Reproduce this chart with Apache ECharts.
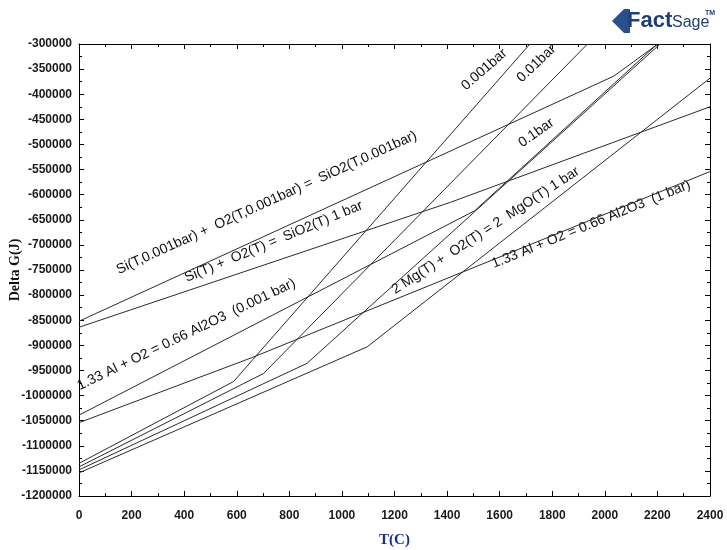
<!DOCTYPE html>
<html><head><meta charset="utf-8">
<script src="https://cdn.jsdelivr.net/npm/echarts@6/dist/echarts.min.js"></script>
<style>html,body{margin:0;padding:0;background:#fff}#c{width:727px;height:550px}</style>
</head><body><div id="c"></div>
<script>
// Temperature (C) and Delta G (J)
const siLowT  = [0, 2034, 2202];
const siLowG  = [-852000, -364000, -300000];
const si1T    = [0, 1414, 2400];
const si1G    = [-864000, -615000, -425000];
const alLowT  = [0, 1505, 2200];
const alLowG  = [-1039000, -632000, -300000];
const al1T    = [0, 660, 2400];
const al1G    = [-1054000, -924000, -554000];
const mg0001T = [0, 588, 1715];
const mg0001G = [-1135000, -972000, -300000];
const mg001T  = [0, 702, 1934];
const mg001G  = [-1142000, -956000, -300000];
const mg01T   = [0, 867, 2210];
const mg01G   = [-1148000, -936000, -300000];
const mg1T    = [0, 1096, 2400];
const mg1G    = [-1154000, -903000, -368000];

const xMin = 0, xMax = 2400, xStep = 200;
const yMin = -1200000, yMax = -300000, yStep = 50000;

const pairs = (t, g) => t.map((v, i) => [v, g[i]]);
const curves = [
  pairs(siLowT, siLowG), pairs(si1T, si1G),
  pairs(alLowT, alLowG), pairs(al1T, al1G),
  pairs(mg0001T, mg0001G), pairs(mg001T, mg001G),
  pairs(mg01T, mg01G), pairs(mg1T, mg1G)
];

const labelFont = '14px "Liberation Sans", Arial, sans-serif';
const notes = [
  ['Si(T,0.001bar) +  O2(T,0.001bar) =  SiO2(T,0.001bar)', 120, 277, 24.4],
  ['Si(T) +  O2(T) =  SiO2(T) 1 bar', 188, 285, 22.6],
  ['1.33 Al + O2 = 0.66 Al2O3  (0.001 bar)', 81, 393, 25.7],
  ['0.001bar', 468, 93, 41],
  ['0.01bar', 524, 85, 43.5],
  ['0.1bar', 524, 150, 35],
  ['2 Mg(T) +  O2(T) = 2  MgO(T) 1 bar', 397, 297, 33.2],
  ['1.33 Al + O2 = 0.66 Al2O3  (1 bar)', 495, 271, 22.1]
];

const chart = echarts.init(document.getElementById('c'), null, {renderer: 'canvas'});
const axCommon = {
  type: 'value', min: xMin, max: xMax, interval: xStep,
  axisLine: {show: true, onZero: false, lineStyle: {color: '#000', width: 1}},
  axisTick: {show: true, inside: true, length: 5, lineStyle: {color: '#000'}},
  minorTick: {show: true, splitNumber: 2, length: 3, lineStyle: {color: '#000'}},
  splitLine: {show: false}, minorSplitLine: {show: false}
};
const tickFont = {color: '#1a1a1a', fontSize: 12, fontWeight: 'bold', fontFamily: '"Liberation Sans", Arial, sans-serif'};

chart.setOption({
  animation: false,
  backgroundColor: '#fff',
  grid: {left: 79, right: 17, top: 44, bottom: 54, containLabel: false, outerBoundsMode: 'none'},
  xAxis: [
    Object.assign({}, axCommon, {
      position: 'bottom',
      name: 'T(C)', nameLocation: 'middle', nameGap: 37, nameMoveOverlap: false,
      nameTextStyle: {color: '#1c2f86', fontSize: 15, fontWeight: 'bold', fontFamily: '"Liberation Serif", "DejaVu Serif", serif'},
      axisLabel: Object.assign({margin: 14, formatter: v => String(v)}, tickFont)
    }),
    Object.assign({}, axCommon, {position: 'top', axisLabel: {show: false}})
  ],
  yAxis: [
    Object.assign({}, axCommon, {
      min: yMin, max: yMax, interval: yStep, position: 'left',
      name: 'Delta G(J)', nameLocation: 'middle', nameGap: 57, nameRotate: 90, nameMoveOverlap: false,
      nameTextStyle: {color: '#111', fontSize: 14, fontWeight: 'bold', fontFamily: '"Liberation Serif", "DejaVu Serif", serif'},
      axisLabel: Object.assign({margin: 7, formatter: v => String(v)}, tickFont)
    }),
    Object.assign({}, axCommon, {min: yMin, max: yMax, interval: yStep, position: 'right', axisLabel: {show: false}})
  ],
  series: curves.map(d => ({
    type: 'line', data: d, xAxisIndex: 0, yAxisIndex: 0,
    showSymbol: false, symbol: 'none', clip: true,
    lineStyle: {color: '#2a2a2a', width: 1}
  })),
  graphic: notes.map(n => ({
    type: 'text', x: n[1], y: n[2], rotation: n[3] * Math.PI / 180,
    style: {text: n[0], font: labelFont, fill: '#111', textAlign: 'left', textVerticalAlign: 'bottom'}
  })).concat([
    {type: 'polygon', shape: {points: [[612,21],[624,9],[630,9],[630,33],[624,33]]}, style: {fill: '#2a4f8f'}},
    {type: 'text', x: 627, y: 21, style: {text: 'Fact', font: 'bold 22px "Liberation Sans", Arial, sans-serif', fill: '#1f3f78', textVerticalAlign: 'middle'}},
    {type: 'text', x: 672, y: 23, style: {text: 'Sage', font: '16px "Liberation Sans Narrow", "Liberation Sans", Arial, sans-serif', fill: '#1f3f78', textVerticalAlign: 'middle'}},
    {type: 'text', x: 705, y: 13, style: {text: 'TM', font: 'bold 7px "Liberation Sans", Arial, sans-serif', fill: '#1f3f78', textVerticalAlign: 'middle'}}
  ])
});
</script></body></html>
